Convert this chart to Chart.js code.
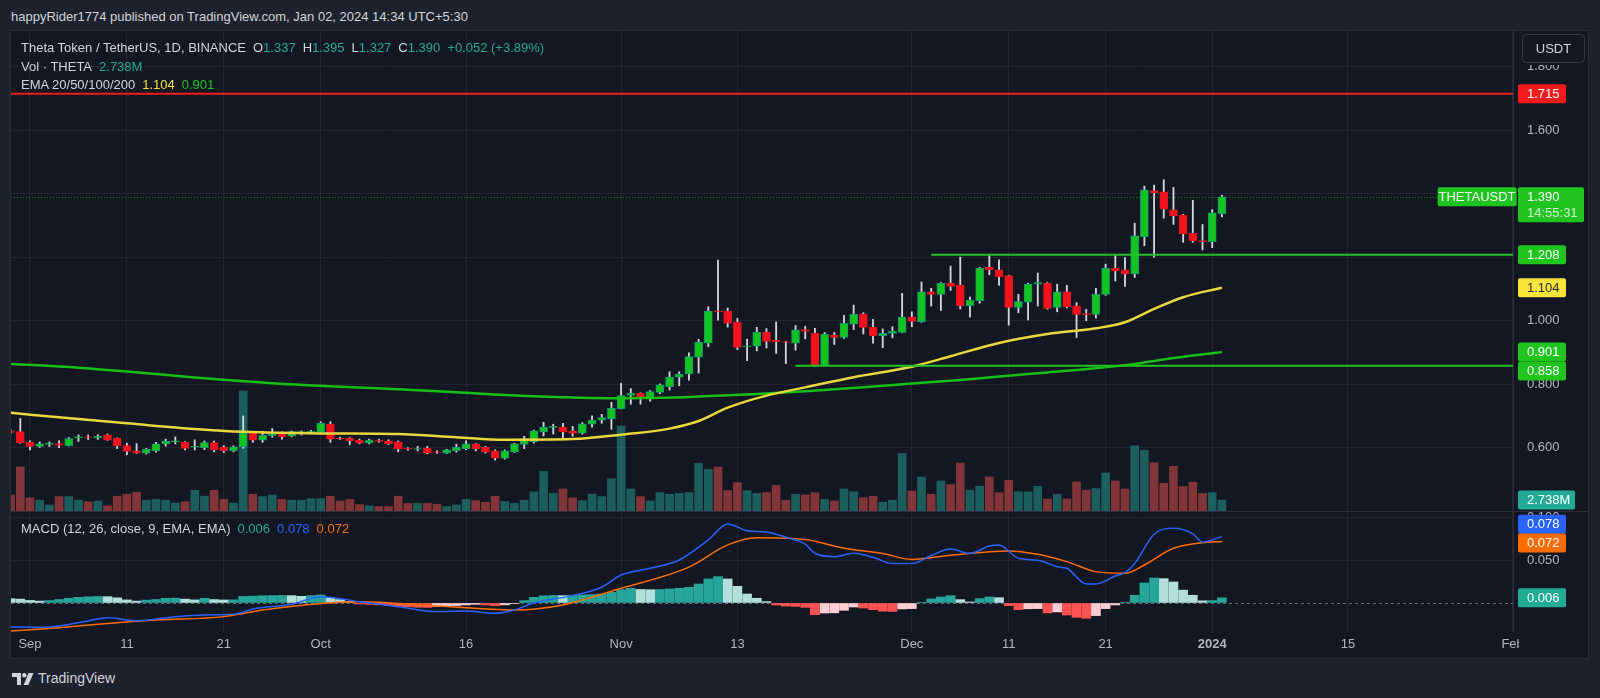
<!DOCTYPE html>
<html>
<head>
<meta charset="UTF-8">
<title>THETAUSDT 1D</title>
<script src="https://cdn.jsdelivr.net/npm/chart.js"></script>
<style>
  body { margin: 0; width: 1600px; height: 698px; overflow: hidden; background: #1e222d;
         font-family: "Liberation Sans", Arial, sans-serif; font-size: 13px; color: #d1d4dc; }
  .abs { position: absolute; white-space: nowrap; line-height: 19px; }
  #frame { position: absolute; left: 11px; top: 31px; width: 1577px; height: 627px; background: #131722;
           box-shadow: 0 0 0 1px #2a2e39; }
  #divider { position: absolute; left: 11px; top: 511px; width: 1577px; height: 1px; background: #2a2e39; }
  canvas { position: absolute; left: 11px; }
  #top { top: 31px; }
  #bot { top: 511px; }
  .g { color: #22ab94; }
  .sp { margin-left: 7px; }
</style>
</head>
<body>
<div class="abs" style="left:11px; top:7px;">happyRider1774 published on TradingView.com, Jan 02, 2024 14:34 UTC+5:30</div>
<div id="frame"></div>
<canvas id="top" width="1577" height="480"></canvas>
<canvas id="bot" width="1577" height="147"></canvas>
<div id="divider"></div>

<div class="abs" style="left:21px; top:38px;">Theta Token / TetherUS, 1D, BINANCE<span class="sp">O</span><span class="g">1.337</span><span class="sp">H</span><span class="g">1.395</span><span class="sp">L</span><span class="g">1.327</span><span class="sp">C</span><span class="g">1.390</span><span class="g sp">+0.052 (+3.89%)</span></div>
<div class="abs" style="left:21px; top:57px;">Vol · THETA<span class="g sp">2.738M</span></div>
<div class="abs" style="left:21px; top:75px;">EMA 20/50/100/200<span class="sp" style="color:#f5e13c">1.104</span><span class="sp" style="color:#1fc41f">0.901</span></div>
<div class="abs" style="left:21px; top:519px;">MACD (12, 26, close, 9, EMA, EMA)<span class="g sp">0.006</span><span class="sp" style="color:#2962ff">0.078</span><span class="sp" style="color:#ff6d00">0.072</span></div>

<div class="abs" style="left:12px; top:669px; font-size:14px; display:flex; align-items:center;">
  <svg width="22" height="12" viewBox="0 0 22 12" style="margin-right:4px">
    <path d="M0 0h9v12h-4v-8h-5z" fill="#d1d4dc"/>
    <circle cx="12.3" cy="2.2" r="2.2" fill="#d1d4dc"/>
    <path d="M16.5 0h5l-5.2 12h-4.6z" fill="#d1d4dc"/>
  </svg>TradingView</div>

<script>
// daily candles, first entry is Aug 30 (day -2, Sep 1 = day 0)
const startDay = -2;
const open = [
  0.652,0.651,0.618,0.604,0.610,0.613,0.606,0.631,0.634,0.631,
  0.640,0.630,0.607,0.590,0.583,0.590,0.612,0.618,0.618,0.602,
  0.600,0.616,0.601,0.591,0.603,0.647,0.624,0.637,0.643,0.636,
  0.649,0.650,0.649,0.674,0.630,0.630,0.624,0.615,0.624,0.621,
  0.618,0.598,0.595,0.598,0.587,0.583,0.591,0.597,0.612,0.601,
  0.590,0.567,0.587,0.610,0.619,0.650,0.664,0.665,0.653,0.646,
  0.674,0.687,0.691,0.723,0.765,0.771,0.755,0.774,0.792,0.822,
  0.832,0.885,0.929,1.031,1.030,0.995,0.918,0.920,0.963,0.939,
  0.934,0.929,0.972,0.960,0.860,0.955,0.947,0.989,1.021,0.979,
  0.953,0.960,0.963,1.011,0.997,1.091,1.083,1.118,1.112,1.047,
  1.063,1.168,1.160,1.142,1.042,1.058,1.115,1.118,1.042,1.091,
  1.047,1.022,1.020,1.083,1.165,1.160,1.147,1.265,1.410,1.406,
  1.349,1.333,1.275,1.252,1.249,1.337];
const high = [
  0.656,0.692,0.622,0.618,0.618,0.622,0.632,0.640,0.640,0.641,
  0.643,0.631,0.614,0.613,0.598,0.617,0.627,0.634,0.619,0.625,
  0.621,0.621,0.606,0.606,0.700,0.648,0.652,0.660,0.650,0.653,
  0.653,0.655,0.682,0.682,0.633,0.632,0.627,0.627,0.627,0.625,
  0.621,0.600,0.604,0.604,0.590,0.595,0.611,0.622,0.613,0.604,
  0.593,0.593,0.614,0.636,0.655,0.680,0.674,0.677,0.667,0.679,
  0.700,0.705,0.743,0.803,0.786,0.773,0.780,0.801,0.839,0.839,
  0.899,0.941,1.044,1.191,1.040,1.007,0.942,0.979,0.975,0.996,
  0.935,0.985,0.982,0.976,0.963,0.963,1.017,1.049,1.025,1.004,
  0.974,0.981,1.086,1.028,1.122,1.102,1.120,1.172,1.200,1.074,
  1.168,1.207,1.192,1.143,1.083,1.118,1.150,1.120,1.115,1.111,
  1.057,1.036,1.102,1.178,1.207,1.199,1.307,1.424,1.427,1.444,
  1.420,1.335,1.379,1.303,1.350,1.395];
const low = [
  0.645,0.614,0.593,0.601,0.604,0.600,0.605,0.620,0.626,0.626,
  0.623,0.597,0.578,0.582,0.580,0.586,0.605,0.612,0.593,0.593,
  0.594,0.587,0.585,0.587,0.598,0.617,0.617,0.633,0.627,0.634,
  0.640,0.646,0.648,0.617,0.626,0.610,0.612,0.612,0.617,0.610,
  0.587,0.592,0.590,0.581,0.582,0.582,0.586,0.594,0.590,0.583,
  0.561,0.564,0.585,0.597,0.614,0.637,0.643,0.630,0.636,0.643,
  0.665,0.677,0.658,0.722,0.737,0.737,0.746,0.770,0.781,0.795,
  0.813,0.835,0.918,1.002,0.980,0.909,0.874,0.905,0.914,0.897,
  0.865,0.907,0.943,0.856,0.858,0.925,0.944,0.972,0.958,0.929,
  0.915,0.946,0.962,0.981,0.995,1.046,1.032,1.095,1.037,1.012,
  1.055,1.145,1.111,0.986,1.025,1.002,1.046,1.036,1.028,1.040,
  0.947,1.000,1.008,1.080,1.125,1.108,1.136,1.236,1.200,1.323,
  1.303,1.247,1.247,1.223,1.230,1.327];
const close = [
  0.648,0.616,0.604,0.612,0.614,0.607,0.629,0.634,0.632,0.636,
  0.624,0.606,0.588,0.583,0.596,0.612,0.621,0.622,0.598,0.604,
  0.616,0.594,0.591,0.603,0.647,0.624,0.639,0.643,0.635,0.651,
  0.651,0.652,0.677,0.627,0.628,0.622,0.614,0.624,0.620,0.613,
  0.596,0.595,0.597,0.584,0.585,0.593,0.601,0.612,0.597,0.586,
  0.567,0.590,0.612,0.624,0.653,0.665,0.667,0.650,0.645,0.675,
  0.687,0.695,0.724,0.764,0.771,0.754,0.777,0.798,0.822,0.831,
  0.887,0.932,1.030,1.028,0.992,0.916,0.921,0.963,0.935,0.934,
  0.932,0.971,0.966,0.860,0.957,0.947,0.992,1.020,0.979,0.953,
  0.960,0.967,1.011,0.998,1.091,1.083,1.118,1.108,1.047,1.065,
  1.165,1.160,1.139,1.042,1.060,1.115,1.120,1.039,1.091,1.044,
  1.020,1.019,1.083,1.165,1.157,1.147,1.267,1.412,1.403,1.351,
  1.331,1.273,1.251,1.249,1.340,1.390];
// volume in millions of THETA
const volume = [
  4.0,11.0,3.3,2.7,1.5,3.6,3.6,2.7,2.3,2.5,
  1.3,3.7,4.2,4.7,2.7,2.9,2.7,2.0,2.3,5.2,
  3.7,5.2,2.9,2.0,30.0,4.2,3.6,4.0,2.9,2.7,
  2.7,3.1,3.1,3.7,2.5,2.9,1.6,1.3,1.1,1.1,
  3.7,1.9,1.9,1.9,1.7,1.1,1.5,2.9,2.6,2.2,
  3.7,2.4,1.9,2.7,4.8,9.9,4.4,5.5,3.3,2.6,
  4.2,3.6,8.1,21.2,5.5,3.6,2.5,4.6,4.2,4.4,
  4.6,11.9,10.4,11.0,5.1,7.1,5.1,4.4,4.6,6.4,
  2.7,4.2,4.0,4.6,2.9,2.5,5.5,4.8,3.3,3.7,
  2.2,2.7,14.4,5.0,8.5,4.2,7.5,6.6,12.0,5.2,
  6.2,8.5,4.6,7.7,4.8,4.8,6.2,3.0,4.2,3.0,
  7.3,5.2,5.6,9.5,7.5,5.5,16.3,15.2,12.1,6.9,
  11.2,6.1,7.2,4.4,4.6,2.738];
const macdHist = [
  0.0050,0.0045,0.0030,0.0022,0.0028,0.0040,0.0055,0.0066,0.0072,0.0076,
  0.0074,0.0060,0.0036,0.0022,0.0034,0.0040,0.0054,0.0056,0.0045,0.0036,
  0.0054,0.0040,0.0035,0.0037,0.0076,0.0080,0.0084,0.0086,0.0088,0.0086,
  0.0078,0.0086,0.0094,0.0060,0.0040,0.0016,-0.0012,-0.0016,-0.0022,-0.0030,
  -0.0038,-0.0046,-0.0050,-0.0052,-0.0040,-0.0032,-0.0030,-0.0023,-0.0016,-0.0023,
  -0.0031,-0.0022,-0.0004,0.0027,0.0066,0.0084,0.0088,0.0086,0.0090,0.0094,
  0.0098,0.0105,0.0125,0.0156,0.0172,0.0158,0.0155,0.0157,0.0164,0.0172,
  0.0183,0.0222,0.0281,0.0308,0.0281,0.0195,0.0105,0.0055,0.0016,-0.0023,
  -0.0036,-0.0040,-0.0051,-0.0137,-0.0118,-0.0115,-0.0086,-0.0047,-0.0059,-0.0078,
  -0.0096,-0.0099,-0.0070,-0.0066,0.0008,0.0047,0.0070,0.0086,0.0039,0.0012,
  0.0051,0.0070,0.0062,-0.0031,-0.0078,-0.0068,-0.0066,-0.0117,-0.0105,-0.0141,
  -0.0168,-0.0180,-0.0148,-0.0066,-0.0023,0.0008,0.0090,0.0234,0.0293,0.0285,
  0.0246,0.0150,0.0090,0.0025,0.0028,0.0060];

// moving averages, read at sample days
const emaYellowDays = [-2,5,10,17,22,30,38,44,49,56,61,66,69,72,76,80,85,91,95,100,105,110,113,116,119,123];
const emaYellowVals = [0.710,0.690,0.677,0.659,0.650,0.645,0.643,0.633,0.625,0.627,0.641,0.660,0.684,0.726,0.764,0.790,0.822,0.855,0.888,0.930,0.958,0.976,0.995,1.037,1.074,1.104];
const emaGreenDays = [-2,5,10,17,25,32,38,44,49,55,60,65,69,75,80,86,91,96,100,105,110,114,117,120,123];
const emaGreenVals = [0.864,0.852,0.840,0.821,0.803,0.792,0.784,0.775,0.766,0.759,0.756,0.757,0.761,0.769,0.778,0.790,0.802,0.813,0.824,0.837,0.850,0.864,0.878,0.890,0.901];

// MACD and signal lines, read at sample days
const macdDays = [-2,1,3,6,8,11,15,18,21,23,27,30,34,38,42,45,48,50,52,56,59,61,64,67,70,72,74,76,78,80,81,83,85,87,89,91,93,95,97,99,100,102,104,106,107,109,110,112,113,114,116,118,120,121,122,123];
const macdVals = [-0.0280,-0.0285,-0.0270,-0.0210,-0.0172,-0.0207,-0.0160,-0.0140,-0.0133,-0.0070,-0.0015,0.0074,0.0015,-0.0043,-0.0101,-0.0094,-0.0121,-0.0082,0.0000,0.0086,0.0184,0.0328,0.0406,0.0503,0.0738,0.0925,0.0847,0.0830,0.0770,0.0690,0.0582,0.0542,0.0582,0.0535,0.0461,0.0461,0.0555,0.0632,0.0580,0.0667,0.0679,0.0523,0.0500,0.0425,0.0406,0.0222,0.0222,0.0315,0.0355,0.0461,0.0804,0.0874,0.0810,0.0711,0.0738,0.0780];
const signalDays = [-2,3,8,13,20,24,30,34,42,50,55,61,68,72,75,80,84,88,91,95,101,104,107,110,113,115,118,121,123];
const signalVals = [-0.0330,-0.0290,-0.0240,-0.0200,-0.0160,-0.0082,-0.0005,0.0015,-0.0035,-0.0082,-0.0023,0.0172,0.0420,0.0680,0.0765,0.0742,0.0640,0.0580,0.0510,0.0560,0.0610,0.0570,0.0484,0.0367,0.0347,0.0445,0.0640,0.0706,0.0720];

// horizontal levels drawn on the chart
const levelVals = [1.715, 1.208, 0.858];
const levelFrom = [-3, 93, 79];
const levelColors = ['#f21c1c', '#1fc41f', '#1fc41f'];

const tickDays = [0, 10, 20, 30, 45, 61, 73, 91, 101, 111, 122, 136, 153];
const tickLabels = ['Sep', '11', '21', 'Oct', '16', 'Nov', '13', 'Dec', '11', '21', '2024', '15', 'Feb'];
const priceTicks = [0.6, 0.8, 1.0, 1.2, 1.4, 1.6, 1.8];
const macdTicks = [0, 0.05, 0.1];

const xMin = -1.96, xMax = 153.04;
const gridColor = '#21252f';
const green = '#1fc41f';
const days = open.map((_, i) => startDay + i);

Chart.defaults.font.family = '"Liberation Sans", Arial, sans-serif';
Chart.defaults.font.size = 13;

function tag(ctx, x, yc, w, bg, fg, lines, h) {
  h = h || 19;
  ctx.fillStyle = bg;
  ctx.beginPath();
  ctx.roundRect(x, yc - 9.5, w, h, 2);
  ctx.fill();
  ctx.fillStyle = fg;
  ctx.font = '13px "Liberation Sans", Arial';
  ctx.textBaseline = 'middle';
  ctx.textAlign = 'left';
  lines.forEach((t, i) => {
    if (i > 0) ctx.fillStyle = 'rgba(255,255,255,0.82)';
    ctx.fillText(t, x + 9, yc + 0.5 + i * 16);
  });
}

const topLabels = {
  id: 'topLabels',
  beforeDatasetsDraw(chart) {
    const ctx = chart.ctx, y = chart.scales.y;
    const py = y.getPixelForValue(close[close.length - 1]);
    ctx.save();
    ctx.strokeStyle = '#1f8a1f';
    ctx.lineWidth = 1;
    ctx.setLineDash([1, 2]);
    ctx.beginPath();
    ctx.moveTo(chart.chartArea.left, Math.round(py) + 0.5);
    ctx.lineTo(1427, Math.round(py) + 0.5);
    ctx.stroke();
    ctx.restore();
  },
  afterDraw(chart) {
    const ctx = chart.ctx, y = chart.scales.y, v = chart.scales.vol;
    ctx.save();
    // currency button
    ctx.fillStyle = '#131722';
    ctx.fillRect(1507, 0, 70, 34);
    ctx.strokeStyle = '#363a45';
    ctx.beginPath();
    ctx.roundRect(1511.5, 3.5, 62, 28, 4);
    ctx.stroke();
    ctx.fillStyle = '#d1d4dc';
    ctx.font = '13px "Liberation Sans", Arial';
    ctx.textAlign = 'center';
    ctx.textBaseline = 'middle';
    ctx.fillText('USDT', 1542.5, 18);

    tag(ctx, 1507, y.getPixelForValue(1.715), 48, '#f21c1c', '#ffffff', ['1.715']);
    const pc = y.getPixelForValue(1.390);
    ctx.fillStyle = green;
    ctx.beginPath();
    ctx.roundRect(1426.7, pc - 9.5, 79, 19, 2);
    ctx.fill();
    ctx.fillStyle = '#ffffff';
    ctx.textAlign = 'center';
    ctx.fillText('THETAUSDT', 1466, pc + 0.5);
    tag(ctx, 1507, pc, 66, green, '#ffffff', ['1.390', '14:55:31'], 35);
    tag(ctx, 1507, y.getPixelForValue(1.208), 48, green, '#ffffff', ['1.208']);
    tag(ctx, 1507, y.getPixelForValue(1.104), 48, '#f9e43c', '#2a2e39', ['1.104']);
    const e = y.getPixelForValue(0.901);
    tag(ctx, 1507, e, 48, green, '#ffffff', ['0.901']);
    tag(ctx, 1507, Math.max(y.getPixelForValue(0.858), e + 19), 48, green, '#ffffff', ['0.858']);
    tag(ctx, 1507, v.getPixelForValue(2.738), 57, '#22ab94', '#ffffff', ['2.738M']);
    ctx.restore();
  }
};

const botLabels = {
  id: 'botLabels',
  beforeDatasetsDraw(chart) {
    const ctx = chart.ctx, y = chart.scales.y, a = chart.chartArea;
    ctx.save();
    ctx.strokeStyle = 'rgba(135,138,150,0.7)';
    ctx.setLineDash([3, 3]);
    ctx.beginPath();
    ctx.moveTo(a.left, Math.round(y.getPixelForValue(0)) + 0.5);
    ctx.lineTo(a.right, Math.round(y.getPixelForValue(0)) + 0.5);
    ctx.stroke();
    ctx.restore();
  },
  afterDraw(chart) {
    const ctx = chart.ctx, y = chart.scales.y;
    ctx.save();
    ctx.fillStyle = '#131722';
    ctx.fillRect(1508, 122, 69, 25);
    tag(ctx, 1507, y.getPixelForValue(0.078) - 12, 48, '#2962ff', '#ffffff', ['0.078']);
    tag(ctx, 1507, y.getPixelForValue(0.072) + 1.5, 48, '#ff6d00', '#ffffff', ['0.072']);
    tag(ctx, 1507, y.getPixelForValue(0.006), 48, '#22ab94', '#ffffff', ['0.006']);
    ctx.restore();
  }
};

const up = days.map((_, i) => close[i] >= open[i]);

const levelSets = levelVals.map((lv, k) => ({
  type: 'line', data: [{x: levelFrom[k], y: lv}, {x: 160, y: lv}],
  borderColor: levelColors[k], borderWidth: 2, pointRadius: 0, yAxisID: 'y', order: 0
}));

new Chart(document.getElementById('top'), {
  type: 'bar',
  data: {
    datasets: [
      ...levelSets,
      { type: 'line', data: emaYellowDays.map((d, i) => ({x: d, y: emaYellowVals[i]})),
        borderColor: '#ebd63e', borderWidth: 2.5, pointRadius: 0, cubicInterpolationMode: 'monotone', yAxisID: 'y', order: 1 },
      { type: 'line', data: emaGreenDays.map((d, i) => ({x: d, y: emaGreenVals[i]})),
        borderColor: '#16bf16', borderWidth: 2.5, pointRadius: 0, cubicInterpolationMode: 'monotone', yAxisID: 'y', order: 1 },
      { data: days.map((d, i) => ({x: d, y: [open[i], close[i]]})),
        backgroundColor: up.map(u => u ? '#14c41e' : '#f5121f'),
        borderColor: up.map(u => u ? '#0a9a72' : '#e0141f'),
        borderWidth: 1, borderSkipped: false, barThickness: 8, grouped: false, yAxisID: 'y', order: 2 },
      { data: days.map((d, i) => ({x: d, y: [low[i], high[i]]})),
        backgroundColor: '#d1d4dc', barThickness: 1.2, grouped: false, yAxisID: 'y', order: 3 },
      { data: days.map((d, i) => ({x: d, y: volume[i]})),
        backgroundColor: up.map(u => u ? 'rgba(38,166,154,0.5)' : 'rgba(239,83,80,0.5)'),
        barThickness: 8, grouped: false, yAxisID: 'vol', order: 5 }
    ]
  },
  options: {
    responsive: false, animation: false, events: [],
    layout: { padding: 0 },
    plugins: { legend: { display: false }, tooltip: { enabled: false } },
    scales: {
      x: { type: 'linear', min: xMin, max: xMax, offset: false,
           afterBuildTicks: s => { s.ticks = tickDays.map(v => ({value: v})); },
           ticks: { display: false }, grid: { color: gridColor, drawTicks: false, offset: false }, border: { display: false },
           afterFit: s => { s.height = 0; s.paddingLeft = 0; s.paddingRight = 0; } },
      y: { position: 'right', min: 0.4006, max: 1.9124,
           afterBuildTicks: s => { s.ticks = priceTicks.map(v => ({value: v})); },
           ticks: { color: '#b2b5be', padding: 14, callback: v => v.toFixed(3) },
           grid: { color: gridColor, drawTicks: false }, border: { color: '#2a2e39' },
           afterFit: s => { s.width = 75; s.paddingTop = 0; s.paddingBottom = 0; } },
      vol: { display: false, min: 0, max: 120 }
    }
  },
  plugins: [topLabels]
});

const histColors = macdHist.map((h, i) => {
  const prev = i > 0 ? macdHist[i - 1] : h;
  if (h >= 0) return h > prev ? '#26a69a' : '#b2dfdb';
  return h < prev ? '#ff5252' : '#ffcdd2';
});

new Chart(document.getElementById('bot'), {
  type: 'bar',
  data: {
    datasets: [
      { type: 'line', data: macdDays.map((d, i) => ({x: d, y: macdVals[i]})),
        borderColor: '#2962ff', borderWidth: 1.5, pointRadius: 0, cubicInterpolationMode: 'monotone', order: 0 },
      { type: 'line', data: signalDays.map((d, i) => ({x: d, y: signalVals[i]})),
        borderColor: '#ff6d00', borderWidth: 1.5, pointRadius: 0, cubicInterpolationMode: 'monotone', order: 1 },
      { data: days.map((d, i) => ({x: d, y: macdHist[i]})),
        backgroundColor: histColors, barThickness: 9, grouped: false, order: 2 }
    ]
  },
  options: {
    responsive: false, animation: false, events: [],
    layout: { padding: 0 },
    plugins: { legend: { display: false }, tooltip: { enabled: false } },
    scales: {
      x: { type: 'linear', min: xMin, max: xMax, offset: false,
           afterBuildTicks: s => { s.ticks = tickDays.map(v => ({value: v})); },
           ticks: { color: '#b2b5be', padding: 5, autoSkip: false, maxRotation: 0,
                    font: c => ({ size: 13, weight: (c.tick && c.tick.value === 122) ? 'bold' : 'normal' }),
                    callback: v => tickLabels[tickDays.indexOf(v)] },
           grid: { color: gridColor, drawTicks: false, offset: false }, border: { display: false },
           afterFit: s => { s.height = 26; s.paddingLeft = 0; s.paddingRight = 0; } },
      y: { position: 'right', min: -0.034, max: 0.1077,
           afterBuildTicks: s => { s.ticks = macdTicks.map(v => ({value: v})); },
           ticks: { color: '#b2b5be', padding: 14, callback: v => v.toFixed(3) },
           grid: { color: c => (c.tick && c.tick.value === 0) ? 'rgba(0,0,0,0)' : gridColor, drawTicks: false },
           border: { color: '#2a2e39' },
           afterFit: s => { s.width = 75; s.paddingTop = 0; s.paddingBottom = 0; } }
    }
  },
  plugins: [botLabels]
});
</script>
</body>
</html>
